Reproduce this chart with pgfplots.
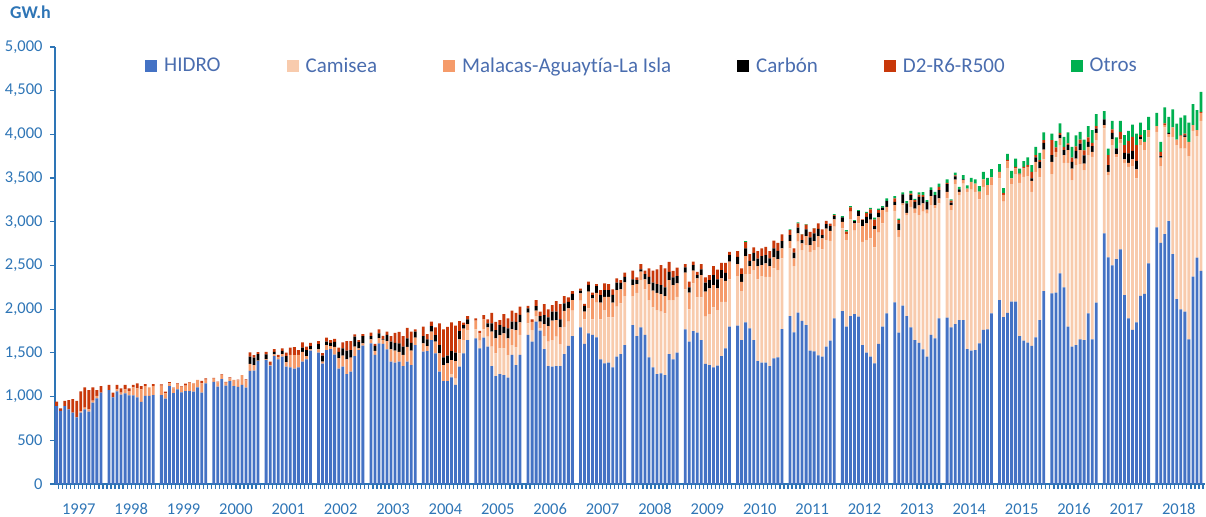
\documentclass[border=0pt]{standalone}
\usepackage{pgfplots}
\usepackage{pgfplotstable}
\pgfplotsset{compat=1.18}
\usepackage{fontspec}
\setmainfont{Carlito}[RawFeature=-liga]
\definecolor{hidro}{HTML}{4472C4}
\definecolor{camisea}{HTML}{F8CBAD}
\definecolor{malacas}{HTML}{F59B6A}
\definecolor{carbon}{HTML}{000000}
\definecolor{dtwo}{HTML}{C8380A}
\definecolor{otros}{HTML}{00B050}
\definecolor{axblue}{HTML}{2E75B6}
\definecolor{txtblue}{HTML}{2E75B6}
\definecolor{legblue}{HTML}{4A6DAF}

\pgfplotstableread{
x H C M K D O
0 892 0 0 0 50 0
1 838 0 0 0 28 0
2 892 0 0 0 58 0
3 854 0 0 0 107 0
4 816 0 0 0 156 0
5 763 0 0 0 187 0
6 816 0 15 0 229 0
7 854 0 19 0 233 0
8 827 0 27 0 221 0
9 930 0 23 0 153 0
10 980 0 27 0 68 0
11 1045 0 0 0 76 0
13 1075 0 0 0 58 0
14 992 0 0 0 53 0
15 1060 0 23 0 50 0
16 1022 0 23 0 50 0
17 1037 0 46 0 50 0
18 1014 0 50 0 30 0
19 1014 0 92 0 27 0
20 992 0 103 0 57 0
21 941 0 141 0 38 0
22 1007 0 114 0 23 0
23 1007 0 99 0 0 0
24 1018 0 103 0 23 0
26 1018 0 107 0 15 0
27 976 0 61 0 19 0
28 1121 0 30 0 15 0
29 1041 0 53 0 8 0
30 1083 0 61 0 8 0
31 1049 0 61 0 8 0
32 1064 0 61 0 23 0
33 1064 0 92 0 8 0
34 1056 0 92 0 4 0
35 1106 0 84 0 0 0
36 1045 0 107 0 27 0
37 1152 0 42 0 15 0
39 1167 0 38 0 8 0
40 1113 0 50 0 8 0
41 1201 0 46 0 8 0
42 1125 0 34 0 8 0
43 1178 0 30 0 12 0
44 1121 0 69 0 0 0
45 1110 0 76 0 8 0
46 1133 0 114 0 0 0
47 1102 0 84 0 11 0
48 1293 0 80 84 50 0
49 1296 0 65 84 30 0
50 1407 0 4 76 23 0
52 1419 0 11 53 30 0
53 1354 0 8 0 38 0
54 1464 0 19 30 30 0
55 1426 0 23 0 27 0
56 1456 0 30 38 27 0
57 1342 0 53 69 38 0
58 1335 0 141 0 84 0
59 1319 0 156 0 91 0
60 1335 0 141 0 57 0
61 1399 0 114 46 61 0
62 1426 0 38 69 38 0
63 1525 0 15 38 38 0
65 1502 0 38 61 34 0
66 1376 0 23 69 30 0
67 1533 0 57 38 46 0
68 1544 0 34 38 30 0
69 1479 0 91 57 34 0
70 1319 0 122 72 46 0
71 1342 0 126 84 69 0
72 1258 0 168 99 110 0
73 1285 0 160 88 103 0
74 1464 0 107 114 27 0
75 1533 0 19 72 23 0
76 1582 0 27 84 23 0
78 1609 0 46 38 38 0
79 1476 0 46 57 23 0
80 1609 0 61 53 46 0
81 1602 0 46 8 38 0
82 1541 0 95 69 38 0
83 1399 0 141 88 65 0
84 1388 0 137 91 114 0
85 1399 0 114 95 133 0
86 1350 0 126 95 122 0
87 1399 0 171 95 122 0
88 1361 0 164 91 126 0
89 1590 0 84 69 27 0
91 1514 0 95 84 107 0
92 1521 0 57 76 61 0
93 1647 0 95 65 50 0
94 1495 0 133 76 88 0
95 1285 0 210 95 248 0
96 1178 0 183 88 320 0
97 1178 0 202 88 331 0
98 1220 38 160 103 328 0
99 1133 74 200 95 309 0
100 1342 152 160 95 114 0
101 1495 150 133 40 27 0
102 1647 114 69 53 38 0
104 1667 103 99 0 27 0
105 1552 88 84 0 27 0
106 1674 95 114 0 50 0
107 1571 114 107 46 46 0
108 1350 221 171 95 122 0
109 1235 259 171 95 95 0
110 1258 293 152 114 57 0
111 1247 305 171 76 145 0
112 1216 259 191 114 114 0
113 1476 114 179 88 126 0
114 1361 202 198 95 103 0
115 1476 229 145 84 95 0
117 1705 133 122 50 27 0
118 1628 133 95 0 27 0
119 1857 65 61 53 69 0
120 1754 27 76 65 50 0
121 1544 149 137 103 126 0
122 1350 278 179 99 91 0
123 1342 305 221 103 76 0
124 1350 335 191 95 122 0
125 1350 251 191 91 175 0
126 1487 312 183 84 84 0
127 1579 278 152 76 50 0
128 1693 290 122 69 34 0
130 1793 305 84 30 23 0
131 1602 282 88 65 23 0
132 1724 286 191 76 38 0
133 1705 179 240 38 27 0
134 1678 396 114 76 23 0
135 1426 457 191 88 57 0
136 1380 610 152 76 76 0
137 1388 518 236 76 69 0
138 1335 572 168 88 65 0
139 1456 572 191 84 50 0
140 1487 579 160 76 30 0
141 1590 560 156 65 46 0
143 1819 331 126 65 99 0
144 1693 495 99 46 30 0
145 1793 541 95 27 61 0
146 1705 522 114 61 38 0
147 1449 655 183 84 95 0
148 1335 686 191 91 137 0
149 1258 732 198 99 168 0
150 1266 705 202 103 229 0
151 1247 705 198 99 217 0
152 1487 617 229 95 114 0
153 1426 678 171 88 76 0
154 1502 640 152 84 99 0
156 1770 457 191 61 38 0
157 1628 370 191 61 65 0
158 1750 545 145 65 38 0
159 1731 404 217 38 38 0
160 1647 488 255 65 61 0
161 1373 541 286 103 61 0
162 1361 583 293 95 57 0
163 1335 686 255 114 103 0
164 1353 636 248 103 114 0
165 1464 621 267 95 84 0
166 1552 533 240 91 114 0
167 1800 541 202 76 38 0
169 1811 568 137 84 65 0
170 1647 560 107 88 65 0
171 1850 552 206 88 72 11
172 1781 617 95 61 76 0
173 1647 800 107 91 61 0
174 1407 933 152 88 84 0
175 1388 991 126 103 88 0
176 1388 983 152 95 95 0
177 1350 1021 122 88 84 0
178 1438 1029 126 103 88 0
179 1449 998 126 95 91 0
180 1773 808 114 84 76 0
182 1922 773 84 69 57 8
183 1735 758 88 65 50 0
184 1960 812 95 65 50 11
185 1865 812 76 38 65 4
186 1819 914 103 76 57 4
187 1525 1132 76 88 65 0
188 1518 1158 103 88 57 4
189 1472 1238 126 82 63 0
190 1456 1227 126 38 65 0
191 1571 1219 133 50 38 0
192 1640 1143 114 53 30 0
193 1896 1048 84 38 11 11
195 1979 945 76 50 0 15
196 1800 991 69 0 27 19
197 1922 1105 88 0 50 15
198 1945 953 84 27 0 11
199 1914 1067 84 57 0 11
200 1590 1181 179 69 8 0
201 1502 1288 191 76 46 11
202 1456 1353 217 69 46 19
203 1380 1326 206 38 76 23
204 1602 1273 175 53 30 19
205 1800 1181 152 30 0 15
206 1952 1162 57 69 0 27
208 2078 1048 65 38 38 27
209 1731 1097 76 76 38 19
210 2040 1151 19 103 0 23
211 1922 1154 27 107 0 27
212 1792 1379 76 57 19 30
213 1647 1455 50 76 19 15
214 1616 1459 114 95 27 27
215 1541 1574 95 76 19 34
216 1456 1638 46 88 0 19
217 1705 1486 103 69 0 30
218 1667 1486 38 114 0 38
219 1896 1314 57 95 38 38
221 1903 1364 76 88 15 38
222 1793 1341 57 27 23 15
223 1830 1600 53 38 11 30
224 1876 1429 38 27 0 30
225 1876 1562 38 8 0 50
226 1544 1798 38 0 0 38
227 1525 1844 88 0 0 46
228 1533 1810 95 0 0 46
229 1610 1646 88 0 0 65
230 1762 1638 84 0 0 88
231 1770 1535 114 0 0 84
232 1953 1467 88 0 0 95
234 2105 1391 76 0 0 88
235 1910 1322 76 0 19 57
236 1957 1657 76 0 19 69
237 2086 1345 65 0 0 88
238 2086 1459 65 0 19 95
239 1693 1753 95 0 11 57
240 1640 1875 95 0 19 65
241 1617 1905 107 0 19 88
242 1579 1764 126 27 76 76
243 1678 1894 114 50 27 95
244 1876 1631 103 76 19 84
245 2208 1505 114 76 30 91
247 2181 1364 141 76 171 76
248 2189 1547 65 0 50 76
249 2410 1467 76 38 27 107
250 2250 1425 88 57 38 114
251 1800 1875 145 57 19 126
252 1571 1905 133 76 50 122
253 1590 2057 76 88 53 126
254 1655 2004 160 76 46 88
255 1647 1943 76 95 57 122
256 1953 1810 95 57 50 130
257 1655 2088 57 65 38 145
258 2074 1859 84 50 27 137
260 2868 1200 38 65 0 95
261 2593 941 38 76 114 76
262 2502 1375 65 76 38 99
263 2574 1162 38 65 0 126
264 2685 1219 38 0 88 126
265 2162 1513 38 76 88 114
266 1895 1734 46 107 145 114
267 1762 1875 76 99 160 141
268 1850 1646 103 99 179 133
269 2151 1726 65 30 19 145
270 2174 1646 95 0 0 133
271 2525 1440 84 0 0 152
273 2937 1093 65 0 0 152
274 2760 876 99 15 50 114
275 2860 1219 27 0 19 183
276 3009 964 30 15 0 183
277 2631 1341 107 0 0 206
278 2116 1760 65 0 0 183
279 1998 1840 141 0 11 202
280 1971 1867 133 19 19 210
281 1655 2096 164 0 0 221
282 2372 1669 65 0 0 240
283 2589 1391 69 0 0 229
284 2437 1718 91 0 11 229
}\data

\begin{document}
\begin{tikzpicture}
\begin{axis}[
  scale only axis,
  width=1150pt, height=437pt,
  xmin=-0.4, xmax=285, ymin=0, ymax=5000,
  ybar stacked, bar width=0.7,
  axis x line=bottom, axis y line=left,
  axis line style={-, draw=axblue, line width=1.6pt},
  tick align=outside,
  xtick={5.5,18.5,...,278.5},
  xticklabels={1997,1998,1999,2000,2001,2002,2003,2004,2005,2006,2007,2008,2009,2010,2011,2012,2013,2014,2015,2016,2017,2018},
  every major x tick/.append style={draw=none},
  minor xtick={-0.5,0.5,...,284.5},
  minor tick length=5pt,
  every minor x tick/.append style={draw=axblue, line width=1.2pt},
  ytick={0,500,...,5000},
  major tick length=5pt,
  every major y tick/.append style={draw=axblue, line width=1.2pt},
  /pgf/number format/.cd, 1000 sep={,}, assume math mode=true,
  /pgfplots/.cd,
  yticklabel style={font=\fontsize{16.5}{18}\selectfont, text=txtblue, xshift=-4pt},
  xticklabel style={font=\fontsize{16.5}{18}\selectfont, text=txtblue, yshift=-11pt},
  clip=false,
  legend columns=6,
  legend style={at={(0.0783,0.957)}, anchor=west, draw=none, fill=none,
    inner sep=0pt, font=\fontsize{21}{24}\selectfont, text=legblue,
    /tikz/every odd column/.append style={column sep=5pt},
    /tikz/every even column/.append style={column sep=64pt}},
  legend image code/.code={\fill[#1] (0pt,-6pt) rectangle (12pt,6pt);},
]
\addplot[fill=hidro, draw=none] table[x=x,y=H]{\data};
\addplot[fill=camisea, draw=none] table[x=x,y=C]{\data};
\addplot[fill=malacas, draw=none] table[x=x,y=M]{\data};
\addplot[fill=carbon, draw=none] table[x=x,y=K]{\data};
\addplot[fill=dtwo, draw=none] table[x=x,y=D]{\data};
\addplot[fill=otros, draw=none] table[x=x,y=O]{\data};
\legend{HIDRO,Camisea,Malacas-Aguaytía-La Isla,Carbón,D2-R6-R500,Otros}
\node[anchor=west, inner sep=0pt, font=\bfseries\fontsize{18}{20}\selectfont, text=txtblue] at (rel axis cs:-0.0391,1.080) {GW.h};
\end{axis}
\pgfresetboundingbox
\path[use as bounding box] ([shift={(-55pt,-33pt)}]current axis.south west) rectangle ([shift={(1pt,47pt)}]current axis.north east);
\end{tikzpicture}
\end{document}
